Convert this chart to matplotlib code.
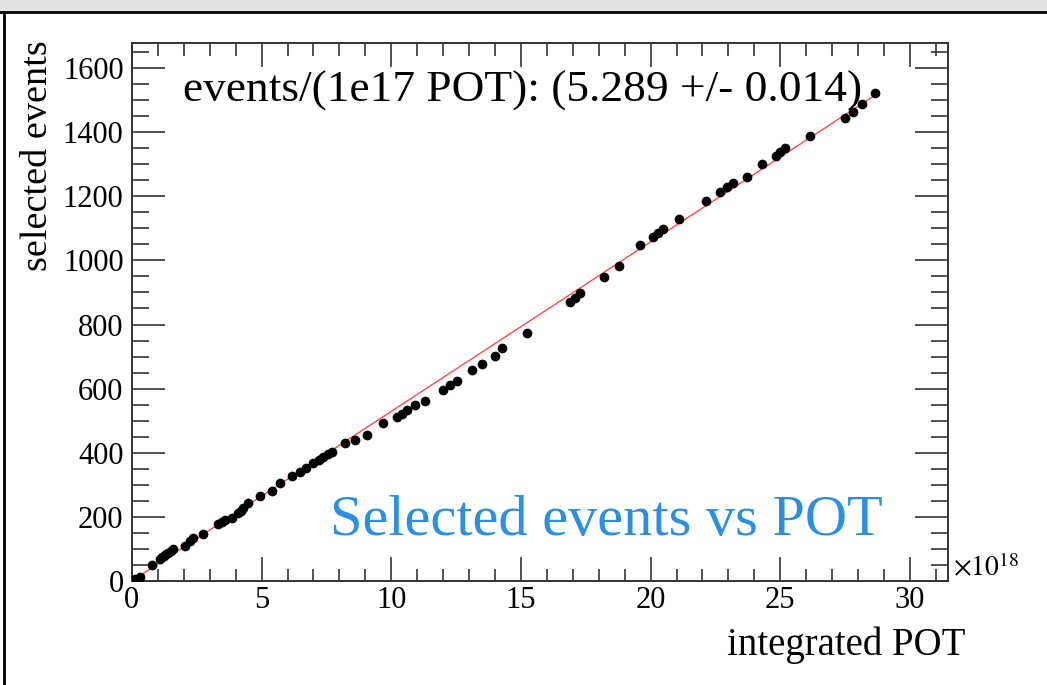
import matplotlib
matplotlib.use("Agg")
import matplotlib.pyplot as plt
import numpy as np
from matplotlib.lines import Line2D
from matplotlib.patches import Rectangle
from matplotlib.ticker import MultipleLocator

plt.rcParams["font.family"] = ["Liberation Serif", "DejaVu Serif"]
plt.rcParams["mathtext.fontset"] = "stix"

# integrated POT [1e18] and selected events
pot = [0.0, 0.1, 0.3, 0.76, 1.08, 1.17, 1.25, 1.33, 1.40, 1.50, 1.59, 2.04, 2.24,
       2.37, 2.75, 3.33, 3.46, 3.60, 3.84, 4.10, 4.20, 4.29, 4.46, 4.94, 5.39,
       5.71, 6.16, 6.48, 6.70, 6.99, 7.20, 7.38, 7.55, 7.70, 8.21, 8.60, 9.07,
       9.69, 10.21, 10.40, 10.59, 10.91, 11.30, 12.0, 12.26, 12.52, 13.10, 13.49,
       14.0, 14.26, 15.22, 16.89, 17.10, 17.28, 18.2, 18.8, 19.59, 20.10, 20.30,
       20.49, 21.1, 22.14, 22.68, 22.93, 23.19, 23.7, 24.3, 24.83, 25.0, 25.18,
       26.15, 27.5, 27.82, 28.14, 28.65]
events = [0, 5, 12, 50, 69, 73, 78, 83, 88, 94, 99, 109, 126,
          133, 147, 178, 185, 190, 196, 211, 219, 227, 242, 265, 282,
          305, 328, 341, 352, 367, 378, 388, 396, 403, 429, 440, 455,
          492, 512, 522, 533, 549, 562, 596, 611, 624, 658, 676,
          702, 726, 774, 871, 884, 897, 948, 984, 1048, 1074, 1086,
          1097, 1128, 1185, 1214, 1228, 1242, 1261, 1302, 1327, 1338, 1350,
          1388, 1446, 1464, 1488, 1523]

slope = 5.289 * 10  # events per 1e18 POT
slope_err = 0.014
fit_x = [0.0, 28.65]

fig = plt.figure(figsize=(10.47, 6.85), dpi=100)
ax = fig.add_axes([0.126, 0.152, 0.7795, 0.785])

ax.plot(fit_x, [slope * v for v in fit_x], color="#ff4a4a", lw=1.0, zorder=2)
ax.plot(pot, events, "o", color="black", ms=7, mec="none", zorder=3)

ax.set_xlim(0, 31.47)
ax.set_ylim(0, 1678)

ax.xaxis.set_major_locator(MultipleLocator(5))
ax.xaxis.set_minor_locator(MultipleLocator(1))
ax.yaxis.set_major_locator(MultipleLocator(200))
ax.yaxis.set_minor_locator(MultipleLocator(50))
ax.tick_params(axis="both", which="both", direction="in", top=True, right=True,
               color="#333333", width=1.2)
ax.tick_params(axis="x", which="major", length=17, labelsize=22, pad=4)
ax.tick_params(axis="x", which="minor", length=9)
ax.tick_params(axis="y", which="major", length=24, labelsize=22, pad=6)
ax.tick_params(axis="y", which="minor", length=12)
for sp in ax.spines.values():
    sp.set_color("#333333")
    sp.set_linewidth(1.4)

ax.text(0.0625, 0.912, f"events/(1e17 POT): ({slope / 10:.3f} +/- {slope_err:.3f})",
        transform=ax.transAxes, fontsize=32.7, ha="left", va="center")
ax.text(0.243, 0.0855, "Selected events vs POT", transform=ax.transAxes,
        fontsize=42, color="#2b8fe3", ha="left", va="baseline")

fig.text(0.036, 1 - 40 / 685, "selected events", rotation=90, fontsize=27.5,
         ha="center", va="top")
fig.text(965 / 1047, 1 - 645 / 685, "integrated POT", fontsize=28,
         ha="right", va="center")
fig.text(953 / 1047, 1 - 568 / 685, r"$\times10^{18}$", fontsize=20,
         ha="left", va="center")

# slide frame around the plot
fig.patches.append(Rectangle((0, 1 - 10 / 685), 1, 10 / 685, transform=fig.transFigure,
                             color="#e2e2e2", zorder=0))
fig.lines.append(Line2D([0, 1], [1 - 12 / 685] * 2, transform=fig.transFigure,
                        color="black", lw=2))
fig.lines.append(Line2D([4 / 1047] * 2, [0, 1 - 12 / 685], transform=fig.transFigure,
                        color="black", lw=2))

fig.savefig("out.png", dpi=100)
